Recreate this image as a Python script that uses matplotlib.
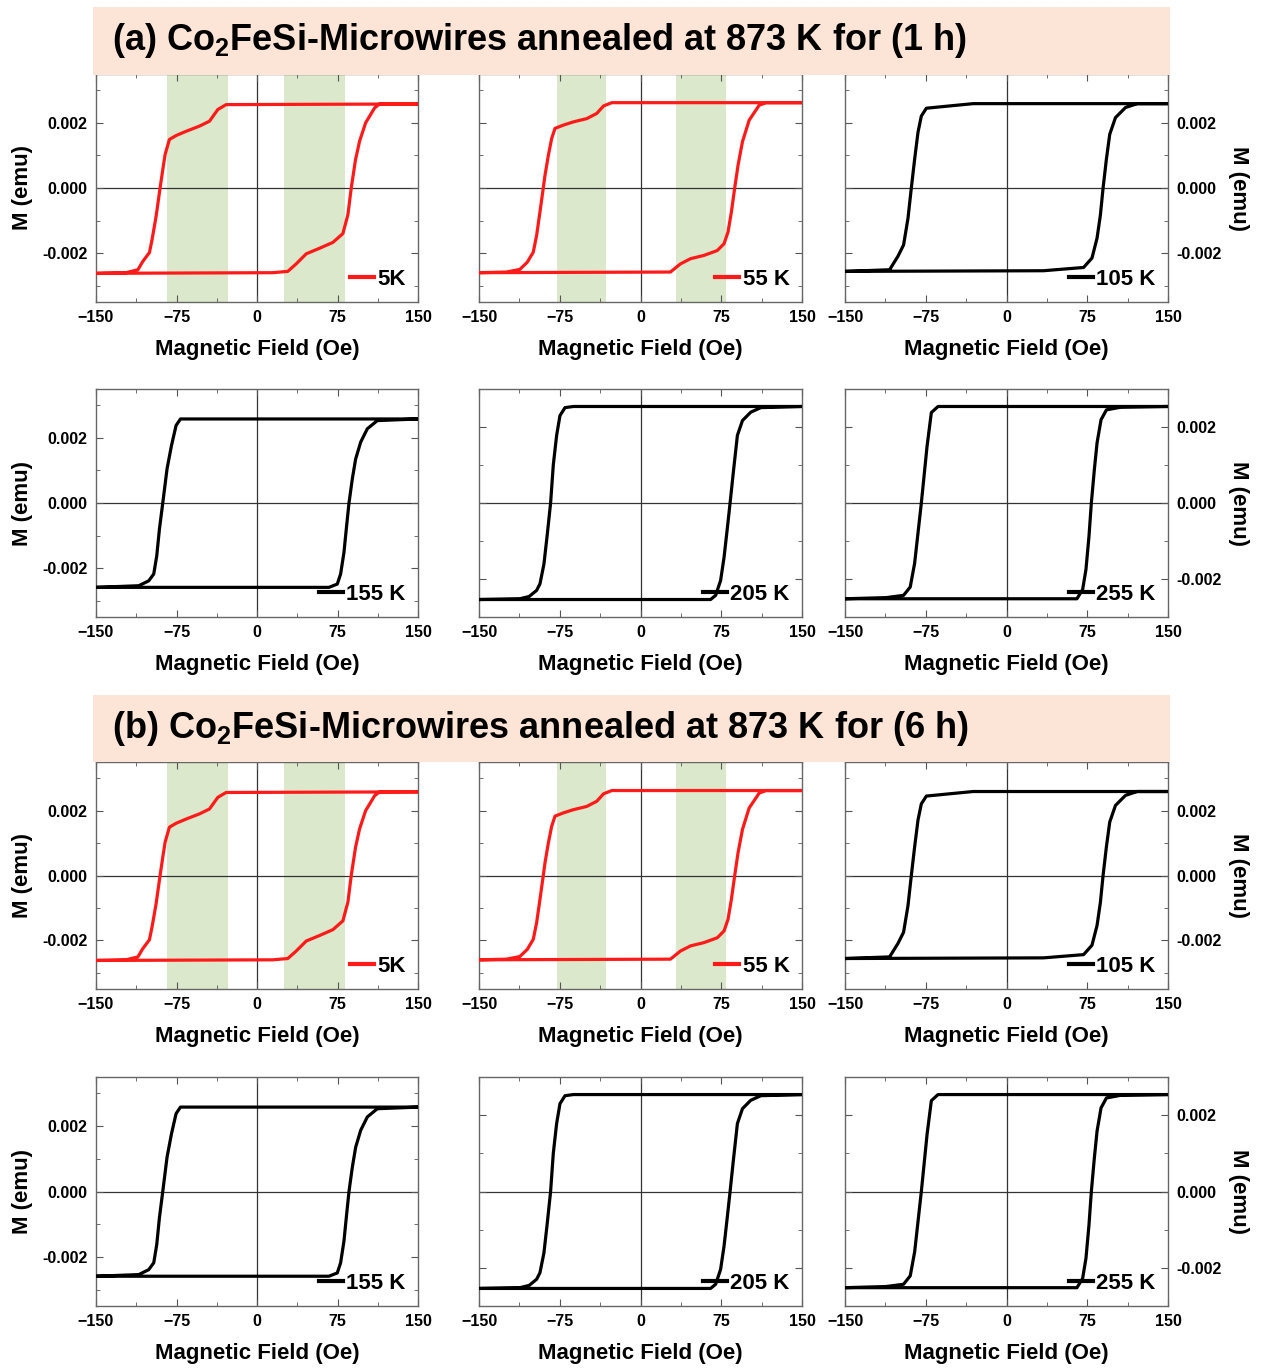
import matplotlib
matplotlib.use("Agg")
import matplotlib.pyplot as plt  # noqa: E402
from matplotlib.patches import Rectangle  # noqa: E402
from matplotlib.ticker import MultipleLocator, FormatStrFormatter  # noqa: E402

plt.rcParams["font.family"] = ["Liberation Sans", "DejaVu Sans"]
plt.rcParams["font.weight"] = "bold"

TITLES = [
    r"(a) Co$_\mathregular{2}$FeSi-Microwires annealed at 873 K for (1 h)",
    r"(b) Co$_\mathregular{2}$FeSi-Microwires annealed at 873 K for (6 h)",
]
TEMPS = ["5K", "55 K", "105 K", "155 K", "205 K", "255 K"]

# each loop: descending branch (+150 -> -150 Oe) then ascending branch (-150 -> +150 Oe)
H_5K = [150, -28.8, -36.5, -44.3, -53.6, -66.1, -75.4, -81.6, -85.6, -87.8, -90.3, -94, -97.8,
        -100.2, -106.5, -111, -122, -150,
        -150, 14.8, 28.7, 36.5, 45.9, 58.3, 70.7, 80, 84.7, 87.8, 91.8, 95.6, 101.2, 109.6, 114.2, 150]
M_5K = [0.00258, 0.00256, 0.00241, 0.00205, 0.0019, 0.00174, 0.00161, 0.00149, 0.00103, 0.00056, 0,
        -0.00087, -0.00159, -0.00198, -0.00226, -0.00251, -0.0026, -0.00262,
        -0.00262, -0.0026, -0.00256, -0.00233, -0.00202, -0.00185, -0.00167, -0.0014, -0.00082, 0,
        0.00087, 0.00144, 0.002, 0.00246, 0.00258, 0.00258]

H_55K = [150, -26.6, -34.3, -40.6, -49.9, -62.3, -71.7, -79.4, -82.5, -85.6, -88.7, -90.3, -93.4,
         -96.5, -99.6, -105.2, -112.1, -124.5, -150,
         -150, 27.8, 37.1, 46.5, 58.9, 71.3, 77.6, 81.3, 84.4, 87.5, 90.6, 94.7, 100.9, 110.2, 116.4, 150]
M_55K = [0.00262, 0.00262, 0.00252, 0.00229, 0.00213, 0.00203, 0.00193, 0.00183, 0.00152, 0.001,
         0.00039, 0, -0.00074, -0.00146, -0.00197, -0.00228, -0.0025, -0.00258, -0.0026,
         -0.0026, -0.00258, -0.00233, -0.00217, -0.00207, -0.00192, -0.00171, -0.00135, -0.00074, 0,
         0.0007, 0.00142, 0.00208, 0.00254, 0.00262, 0.00262]

H_105K = [150, -30.9, -74.4, -79.1, -82.2, -85.3, -88.4, -91.5, -95.6, -100.9, -108.6, -150,
          -150, 34.3, 71.6, 79.4, 84.1, 87.2, 89.7, 92.8, 95.9, 101.2, 110.5, 121.4, 150]
M_105K = [0.00259, 0.00259, 0.00245, 0.00221, 0.00171, 0.00089, 0, -0.00093, -0.00175, -0.0021,
          -0.00251, -0.00256,
          -0.00256, -0.00254, -0.00244, -0.00215, -0.00154, -0.00083, 0, 0.00089, 0.00165, 0.00216,
          0.00247, 0.00259, 0.00259]

H_155K = [150, -71.3, -75.4, -79.7, -83.8, -87.8, -90.9, -93.4, -96.2, -100.9, -110.2, -150,
          -150, 67, 74.8, 77.9, 81, 83.5, 85.7, 88.8, 91.9, 96.6, 102.8, 112.1, 150]
M_155K = [0.00258, 0.00258, 0.00238, 0.00176, 0.00105, 0, -0.0008, -0.00162, -0.00218, -0.00239,
          -0.00254, -0.00259,
          -0.00259, -0.00259, -0.00249, -0.00218, -0.00152, -0.0007, 0, 0.00074, 0.00135, 0.00187,
          0.00228, 0.00253, 0.00258]

H_205K = [150, -62.3, -70.1, -74.8, -77.9, -81, -83.5, -86.6, -89.7, -93.4, -96.5, -103.4, -112.1, -150,
          -150, 65.1, 69.8, 74.4, 77.6, 80.7, 83.2, 86.3, 90, 94.7, 102.4, 111.8, 150]
M_205K = [0.00254, 0.00254, 0.00251, 0.0023, 0.00178, 0.001, 0, -0.00083, -0.00161, -0.00213,
          -0.0023, -0.00246, -0.00252, -0.00254,
          -0.00254, -0.00254, -0.00243, -0.00204, -0.00143, -0.00065, 0, 0.00083, 0.00178, 0.00217,
          0.00239, 0.00251, 0.00254]

H_255K = [150, -63.6, -69.8, -73.8, -76.6, -79.1, -82.2, -85.3, -89.4, -95.6, -111.8, -150,
          -150, 65.4, 70.7, 73.8, 76.6, 78.8, 81.6, 84.1, 87.8, 92.8, 105.9, 150]
M_255K = [0.00254, 0.00254, 0.00238, 0.00149, 0.0007, 0, -0.00079, -0.00158, -0.00221, -0.00243,
          -0.00249, -0.00252,
          -0.00252, -0.00252, -0.00228, -0.00175, -0.00088, 0, 0.00088, 0.00158, 0.00219, 0.00245,
          0.00252, 0.00254]

# field windows shaded green (Oe)
BANDS_5K = [(-84, -27), (25, 82)]
BANDS_55K = [(-78, -32), (33, 79)]

LOOPS = [(H_5K, M_5K), (H_55K, M_55K), (H_105K, M_105K),
         (H_155K, M_155K), (H_205K, M_205K), (H_255K, M_255K)]
BANDS = [BANDS_5K, BANDS_55K, [], [], [], []]
YLIMS = [0.0035, 0.0035, 0.0035, 0.0035, 0.003, 0.003]
COLORS = ["#ff1a1a", "#ff1a1a", "black", "black", "black", "black"]

W, H = 1261, 1369
fig = plt.figure(figsize=(W / 100, H / 100), dpi=100)


def rect(x0, x1, y0, y1):
    return [x0 / W, 1 - y1 / H, (x1 - x0) / W, (y1 - y0) / H]


COLS = [(96, 418), (479, 802), (845, 1168)]
ROWS = [[(74, 302), (389, 617)], [(762, 989), (1077, 1306)]]
BANNERS = [(7, 75), (695, 762)]

for s in range(2):
    b0, b1 = BANNERS[s]
    fig.patches.append(Rectangle((93 / W, 1 - b1 / H), (1170 - 93) / W, (b1 - b0) / H,
                                 transform=fig.transFigure, facecolor="#fce4d6",
                                 edgecolor="none", zorder=5))
    fig.text(112 / W, 1 - (b0 + b1) / 2 / H, TITLES[s], fontsize=26, fontweight="bold",
             family=["Liberation Sans"], va="center", zorder=6)

    for i in range(6):
        r, c = divmod(i, 3)
        y0, y1 = ROWS[s][r]
        x0, x1 = COLS[c]
        ax = fig.add_axes(rect(x0, x1, y0, y1))
        hx, my = LOOPS[i]
        for lo, hi in BANDS[i]:
            ax.axvspan(lo, hi, color="#dbe8cb", lw=0, zorder=0)
        ax.axhline(0, color="#333333", lw=0.9, zorder=1)
        ax.axvline(0, color="#333333", lw=0.9, zorder=1)
        ax.plot(hx, my, color=COLORS[i], lw=2.3, label=TEMPS[i], zorder=3)
        ax.set_xlim(-150, 150)
        ax.set_ylim(-YLIMS[i], YLIMS[i])
        ax.xaxis.set_major_locator(MultipleLocator(75))
        ax.xaxis.set_minor_locator(MultipleLocator(37.5))
        ax.yaxis.set_major_locator(MultipleLocator(0.002))
        ax.yaxis.set_minor_locator(MultipleLocator(0.001))
        ax.yaxis.set_major_formatter(FormatStrFormatter("%.3f"))
        ax.tick_params(which="both", direction="in", top=True, right=True,
                       labelsize=11.5, color="#555555", pad=6)
        ax.tick_params(which="major", length=5)
        ax.tick_params(which="minor", length=3)
        for sp in ax.spines.values():
            sp.set_color("#666666")
            sp.set_linewidth(1)
        ax.set_xlabel("Magnetic Field (Oe)", fontsize=16, fontweight="bold", labelpad=10)
        if c == 0:
            ax.set_ylabel("M (emu)", fontsize=16, fontweight="bold", labelpad=7)
        elif c == 1:
            ax.tick_params(axis="y", labelleft=False)
        else:
            ax.tick_params(axis="y", labelleft=False, labelright=True)
            ax.yaxis.set_label_position("right")
            ax.set_ylabel("M (emu)", fontsize=16, fontweight="bold", rotation=270, labelpad=20)
        leg = ax.legend(loc="lower right", frameon=False, handlelength=1.1, handletextpad=0.15,
                        borderaxespad=0.15, prop={"weight": "bold", "size": 16})
        for hl in leg.get_lines():
            hl.set_linewidth(3)

fig.savefig("out.png", dpi=100)
